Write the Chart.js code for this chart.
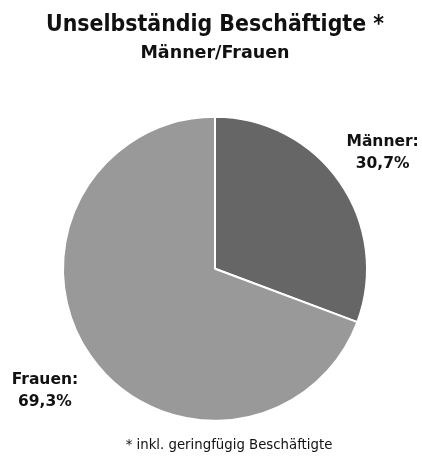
<!DOCTYPE html>
<html>
<head>
<meta charset="utf-8">
<script src="https://cdn.jsdelivr.net/npm/chart.js@4.4.0/dist/chart.umd.min.js"></script>
<style>
  html, body { margin: 0; padding: 0; background: #fff; }
  #grafico { display: block; }
</style>
</head>
<body>
<canvas id="grafico" width="422" height="459"></canvas>
<script>
// dados
const categorias = ['Männer', 'Frauen'];
const valores = [30.7, 69.3];
const rotulos = ['30,7%', '69,3%'];
const cores = ['#666666', '#999999'];

const titulo = 'Unselbständig Beschäftigte *';
const subtitulo = 'Männer/Frauen';
const rodape = '* inkl. geringfügig Beschäftigte';

const fonte = "'DejaVu Sans', sans-serif";
const distanciaRotulo = [52, 55];
const ajusteY = [0, 4];

// rotulos fora das fatias
const pluginRotulos = {
    id: 'rotulosFora',
    afterDatasetsDraw(chart) {
        const ctx = chart.ctx;
        const meta = chart.getDatasetMeta(0);
        ctx.save();
        ctx.fillStyle = '#111';
        ctx.font = 'bold 15.5px ' + fonte;
        ctx.textAlign = 'center';
        ctx.textBaseline = 'middle';
        meta.data.forEach(function (arco, i) {
            const meio = (arco.startAngle + arco.endAngle) / 2;
            const r = arco.outerRadius + distanciaRotulo[i];
            const x = arco.x + Math.cos(meio) * r;
            const y = arco.y + Math.sin(meio) * r + ajusteY[i];
            ctx.fillText(categorias[i] + ':', x, y - 11);
            ctx.fillText(rotulos[i], x, y + 11);
        });
        // rodape
        ctx.font = '13.3px ' + fonte;
        ctx.fillText(rodape, chart.width / 2 + 18, 446);
        ctx.restore();
    }
};

const graficoPizza = new Chart(document.getElementById('grafico'), {
    type: 'pie',
    data: {
        labels: categorias,
        datasets: [{
            data: valores,
            backgroundColor: cores,
            borderColor: '#ffffff',
            borderWidth: 2,
            radius: 152
        }]
    },
    options: {
        responsive: false,
        animation: false,
        layout: {
            padding: { top: 0, bottom: 37, left: 46, right: 38 }
        },
        plugins: {
            legend: { display: false },
            tooltip: { enabled: false },
            title: {
                display: true,
                text: titulo,
                color: '#111',
                font: { family: fonte, size: 23, weight: 'bold' },
                padding: { top: 11, bottom: 2 }
            },
            subtitle: {
                display: true,
                text: subtitulo,
                color: '#111',
                font: { family: fonte, size: 17.5, weight: 'bold' },
                padding: { top: 2, bottom: 52 }
            }
        }
    },
    plugins: [pluginRotulos]
});
</script>
</body>
</html>
